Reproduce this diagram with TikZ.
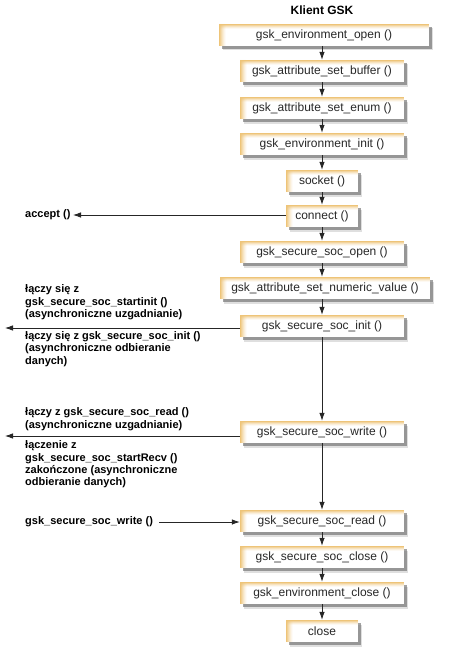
\documentclass[tikz,border=0pt]{standalone}
\usepackage{fontspec}
\setmainfont{Liberation Sans}
\usetikzlibrary{arrows.meta,shadows,calc}
\definecolor{boxor}{RGB}{238,196,120}
\definecolor{boxtext}{RGB}{40,40,40}
\tikzset{
  x=1pt, y=-1pt,
  gbox/.style={minimum height=22pt, inner sep=0pt, fill=white, text=boxtext,
    font=\fontsize{12}{14}\selectfont,
    drop shadow={shadow xshift=4pt, shadow yshift=-4.5pt, fill=black!35, opacity=0.35},
    drop shadow={shadow xshift=2.5pt, shadow yshift=-3pt, fill=black!60, opacity=0.6},
    path picture={
      \foreach \i [evaluate=\i as \op using (1-\i/7)^1.5] in {0,...,6}
        \draw[boxor, draw opacity=\op, line width=1pt]
          ([xshift=\i pt+0.5pt]path picture bounding box.north west) --
          ([xshift=\i pt+0.5pt]path picture bounding box.south west);
      \foreach \i [evaluate=\i as \op using (1-\i/5)^1.5] in {0,...,4}
        \draw[boxor, draw opacity=\op, line width=1pt]
          ([yshift=-\i pt-0.5pt]path picture bounding box.north west) --
          ([yshift=-\i pt-0.5pt]path picture bounding box.north east);
    }},
  wide/.style={gbox, minimum width=210pt},
  mid/.style={gbox, minimum width=164pt},
  small/.style={gbox, minimum width=72pt},
  lbl/.style={font=\fontsize{11}{12.4}\selectfont\bfseries, inner sep=0pt, anchor=west, align=left},
  arr/.style={draw=black!85, line width=0.8pt, -{Latex[length=8pt,width=5.5pt]}},
}
\begin{document}
\begin{tikzpicture}
\useasboundingbox[fill=white] (0,0) rectangle (449,661);
\node[font=\fontsize{12}{14}\selectfont\bfseries] (title) at (322,10) {Klient GSK};

\node[wide] (b1) at (324,35) {gsk\_environment\_open ()};
\node[mid] (b2) at (322,71) {gsk\_attribute\_set\_buffer ()};
\node[mid] (b3) at (322,108) {gsk\_attribute\_set\_enum ()};
\node[mid] (b4) at (322,144) {gsk\_environment\_init ()};
\node[small] (b5) at (322,181) {socket ()};
\node[small] (b6) at (322,216) {connect ()};
\node[mid] (b7) at (322,252) {gsk\_secure\_soc\_open ()};
\node[wide] (b8) at (325,288) {gsk\_attribute\_set\_numeric\_value ()};
\node[mid] (b9) at (322,326) {gsk\_secure\_soc\_init ()};
\node[mid] (b10) at (322,432) {gsk\_secure\_soc\_write ()};
\node[mid] (b11) at (322,521) {gsk\_secure\_soc\_read ()};
\node[mid] (b12) at (322,557) {gsk\_secure\_soc\_close ()};
\node[mid] (b13) at (322,593) {gsk\_environment\_close ()};
\node[small] (b14) at (322,631) {close};

\foreach \a/\b in {b1/b2,b2/b3,b3/b4,b4/b5,b5/b6,b6/b7,b7/b8,b8/b9,b9/b10,b10/b11,b11/b12,b12/b13,b13/b14}
  \draw[arr] (\a.south -| b2.center) -- (\b.north -| b2.center);

% left labels
\node[lbl] (accept) at (25,215) {accept ()};
\coordinate (eacc) at (73,215);
\draw[arr] (b6.west |- eacc) -- (eacc);

\node[lbl] (la) at (25,302.5) {łączy się z\\gsk\_secure\_soc\_startinit ()\\(asynchroniczne uzgadnianie)};
\node[lbl] (lb) at (25,349) {łączy się z gsk\_secure\_soc\_init ()\\(asynchroniczne odbieranie\\danych)};
\coordinate (e9) at (5,328);
\draw[arr] (b9.west |- e9) -- (e9);

\node[lbl] (lc) at (25,419) {łączy z gsk\_secure\_soc\_read ()\\(asynchroniczne uzgadnianie)};
\node[lbl] (ld) at (25,464.5) {łączenie z\\gsk\_secure\_soc\_startRecv ()\\zakończone (asynchroniczne\\odbieranie danych)};
\coordinate (e10) at (5,436);
\draw[arr] (b10.west |- e10) -- (e10);

\node[lbl] (lw) at (25,522) {gsk\_secure\_soc\_write ()};
\coordinate (sw) at (159,522);
\draw[arr] (sw) -- (b11.west |- sw);
\end{tikzpicture}
\end{document}
